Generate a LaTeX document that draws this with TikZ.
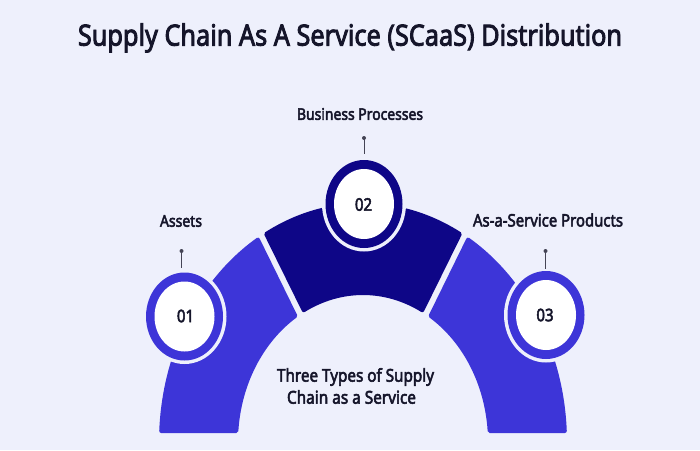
\documentclass[tikz,border=0pt]{standalone}
\usepackage{fontspec}
\setmainfont{Noto Sans}
\newfontfamily\hd{Noto Sans}[FakeBold=3.2]
\usepackage{graphicx}
\definecolor{bg}{HTML}{EEF0FC}
\definecolor{segblue}{HTML}{3D35D8}
\definecolor{segdark}{HTML}{0E0687}
\definecolor{ink}{HTML}{15152A}
\newcommand{\fitw}[2]{\scalebox{1}[1.15]{\resizebox{#1}{!}{\hd #2}}}
\newcommand{\digs}[1]{\scalebox{1}[1.15]{\fontsize{15}{15}\selectfont\hd #1}}
\begin{document}
\begin{tikzpicture}[x=1pt,y=-1pt,
  seg/.style={line width=4pt,line join=round},
  lbl/.style={text=ink,inner sep=0pt,anchor=center},
  pinline/.style={draw=ink!80,line width=0.8pt},
  pindot/.style={fill=ink!80}]
\fill[bg] (0,0) rectangle (700,450);
\useasboundingbox (0,0) rectangle (700,450);
\coordinate (C) at (363,442);
% arch corner coordinates
\path (C) ++(121.35:202pt and 237pt) coordinate (LO1);
\path (C) ++(175.77:127pt and 149pt) coordinate (LI2);
\path (C) ++(61.35:202pt and 237pt) coordinate (MO1);
\path (C) ++(117.81:127pt and 149pt) coordinate (MI2);
\path (C) ++(2.66:202pt and 237pt) coordinate (RO1);
\path (C) ++(57.81:127pt and 149pt) coordinate (RI2);
% left segment
\filldraw[seg,fill=segblue,draw=segblue] (LO1)
  arc[start angle=121.35,end angle=177.34,x radius=202pt,y radius=237pt]
  -- (LI2)
  arc[start angle=175.77,end angle=122.19,x radius=127pt,y radius=149pt] -- cycle;
% middle segment
\filldraw[seg,fill=segdark,draw=segdark] (MO1)
  arc[start angle=61.35,end angle=118.65,x radius=202pt,y radius=237pt]
  -- (MI2)
  arc[start angle=117.81,end angle=62.19,x radius=127pt,y radius=149pt] -- cycle;
% right segment
\filldraw[seg,fill=segblue,draw=segblue] (RO1)
  arc[start angle=2.66,end angle=58.65,x radius=202pt,y radius=237pt]
  -- (RI2)
  arc[start angle=57.81,end angle=4.23,x radius=127pt,y radius=149pt] -- cycle;
% circles
\coordinate (c1) at (184.5,316.5);
\coordinate (c2) at (364,204);
\coordinate (c3) at (546,315);
\foreach \c/\col in {c1/segblue,c2/segdark,c3/segblue}{
  \fill[bg] (\c) ellipse[x radius=42pt,y radius=47.5pt];
  \fill[\col] (\c) ellipse[x radius=38.5pt,y radius=44pt];
  \fill[white] (\c) ellipse[x radius=30pt,y radius=35pt];
}
\node[lbl] (n1) at (185.5,316) {\digs{01}};
\node[lbl] (n2) at (363.5,204.5) {\digs{02}};
\node[lbl] (n3) at (545,315) {\digs{03}};
% pins
\coordinate (p1t) at (181.5,251);
\coordinate (p1b) at (181.5,268);
\coordinate (p2t) at (364,138);
\coordinate (p2b) at (364,154);
\coordinate (p3t) at (545.5,251);
\coordinate (p3b) at (545.5,269);
\draw[pinline] (p1t) -- (p1b);
\draw[pinline] (p2t) -- (p2b);
\draw[pinline] (p3t) -- (p3b);
\fill[pindot] (p1t) circle[radius=2pt];
\fill[pindot] (p2t) circle[radius=2pt];
\fill[pindot] (p3t) circle[radius=2pt];
% labels
\node[lbl] (title) at (350,38) {\fitw{544pt}{Supply Chain As A Service (SCaaS) Distribution}};
\node[lbl] (l1) at (181,221) {\fitw{42pt}{Assets}};
\node[lbl] (l2) at (360,114) {\fitw{126pt}{Business Processes}};
\node[lbl] (l3) at (548,220) {\fitw{150pt}{As-a-Service Products}};
\node[lbl] (b1) at (355.5,377) {\fitw{157pt}{Three Types of Supply}};
\node[lbl] (b2) at (351.5,397) {\fitw{129pt}{Chain as a Service}};
\end{tikzpicture}
\end{document}
